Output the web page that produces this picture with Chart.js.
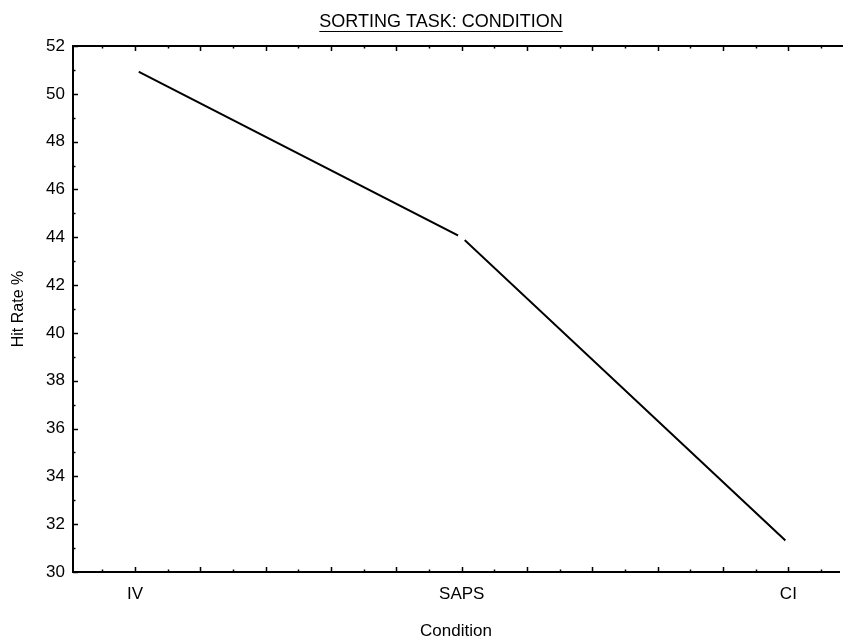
<!DOCTYPE html>
<html>
<head>
<meta charset="utf-8">
<script src="https://cdn.jsdelivr.net/npm/chart.js@4.4.1/dist/chart.umd.min.js"></script>
<style>
html,body{margin:0;padding:0;background:#fff;}
#wrap{width:843px;height:642px;position:relative;}
</style>
</head>
<body>
<div id="wrap"><canvas id="c" width="843" height="642"></canvas></div>
<script>
const chartTitle = "SORTING TASK: CONDITION";
const xAxisTitle = "Condition";
const yAxisTitle = "Hit Rate %";
const categories = ["IV", "SAPS", "CI"];
const hitRate = [51.0, 44.0, 31.2];
const yTicks = [30, 32, 34, 36, 38, 40, 42, 44, 46, 48, 50, 52];

const FONT = "'Liberation Sans', Arial, sans-serif";
const X_MIN = -0.19, X_MAX = 2.155;

const points = categories.map((c, i) => ({x: i, y: hitRate[i]}));

const framePlugin = {
  id: 'frame',
  afterDraw(chart) {
    const ctx = chart.ctx;
    const a = chart.chartArea;
    const xs = chart.scales.x, ys = chart.scales.y;
    ctx.save();
    ctx.strokeStyle = '#000';
    ctx.lineWidth = 2;
    ctx.beginPath();
    ctx.moveTo(a.left, a.top);
    ctx.lineTo(a.right + 4, a.top);
    ctx.stroke();
    ctx.lineWidth = 1.5;
    for (let k = Math.ceil(X_MIN * 10); k <= Math.floor(X_MAX * 10); k++) {
      const px = Math.round(xs.getPixelForValue(k / 10)) + 0.5;
      const major = (k % 2 === 0);
      const len = major ? 5 : 2.5;
      ctx.beginPath();
      ctx.moveTo(px, a.bottom);
      ctx.lineTo(px, a.bottom - len);
      ctx.moveTo(px, a.top);
      ctx.lineTo(px, a.top + len);
      ctx.stroke();
    }
    for (let v = yTicks[0]; v <= yTicks[yTicks.length - 1]; v += 1) {
      const py = Math.round(ys.getPixelForValue(v)) + 0.5;
      const major = (v % 2 === 0);
      const len = major ? 5 : 2.5;
      ctx.beginPath();
      ctx.moveTo(a.left, py);
      ctx.lineTo(a.left + len, py);
      ctx.stroke();
    }
    ctx.fillStyle = '#000';
    ctx.font = "18px " + FONT;
    ctx.textAlign = 'center';
    ctx.textBaseline = 'alphabetic';
    const tx = 441, ty = 27;
    ctx.fillText(chartTitle, tx, ty);
    const w = ctx.measureText(chartTitle).width;
    ctx.lineWidth = 1;
    ctx.beginPath();
    ctx.moveTo(tx - w / 2, ty + 4.5);
    ctx.lineTo(tx + w / 2, ty + 4.5);
    ctx.stroke();
    ctx.restore();
  }
};

new Chart(document.getElementById('c'), {
  type: 'line',
  data: {
    datasets: [{
      data: points,
      borderColor: '#000',
      borderWidth: 2,
      pointRadius: 4,
      pointBackgroundColor: '#fff',
      pointBorderWidth: 0,
      pointBorderColor: 'rgba(0,0,0,0)',
      tension: 0,
      fill: false
    }]
  },
  options: {
    responsive: false,
    animation: false,
    devicePixelRatio: 1,
    layout: {padding: {top: 46, right: 0, left: 0, bottom: 0}},
    plugins: {
      legend: {display: false},
      title: {display: false},
      tooltip: {enabled: false}
    },
    scales: {
      x: {
        type: 'linear',
        min: X_MIN,
        max: X_MAX,
        afterBuildTicks(scale) {
          scale.ticks = categories.map((c, i) => ({value: i}));
        },
        afterFit(scale) { scale.height = 70; },
        ticks: {
          autoSkip: false,
          maxRotation: 0,
          padding: 12,
          color: '#000',
          font: {family: FONT, size: 17},
          callback: (v) => categories[Math.round(v)] ?? ''
        },
        grid: {display: true, drawOnChartArea: false, drawTicks: false, color: 'rgba(0,0,0,0)'},
        border: {display: true, color: '#000', width: 2},
        title: {
          display: true,
          text: xAxisTitle,
          color: '#000',
          font: {family: FONT, size: 17},
          padding: {top: 0, bottom: 0}
        }
      },
      y: {
        min: yTicks[0],
        max: yTicks[yTicks.length - 1],
        afterBuildTicks(scale) {
          scale.ticks = yTicks.map(v => ({value: v}));
        },
        afterFit(scale) { scale.width = 73; },
        ticks: {
          padding: 8,
          color: '#000',
          font: {family: FONT, size: 17}
        },
        grid: {display: true, drawOnChartArea: false, drawTicks: false, color: 'rgba(0,0,0,0)'},
        border: {display: true, color: '#000', width: 2},
        title: {
          display: true,
          text: yAxisTitle,
          color: '#000',
          font: {family: FONT, size: 16},
          padding: {top: 9, bottom: 0}
        }
      }
    }
  },
  plugins: [framePlugin]
});
</script>
</body>
</html>
